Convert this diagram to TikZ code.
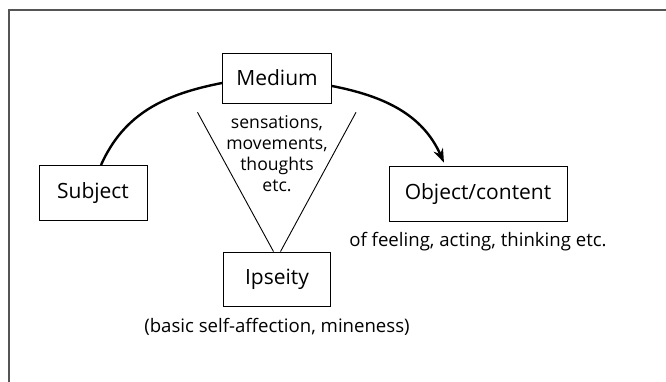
\documentclass[tikz,border=0pt]{standalone}
\usepackage{fontspec}
\setmainfont{Open Sans}
\usetikzlibrary{arrows.meta, positioning}
\definecolor{framegray}{RGB}{85, 85, 85}

\begin{document}
\begin{tikzpicture}[x=1pt, y=1pt,
  box/.style={draw, line width=0.9pt, inner sep=0pt, font=\fontsize{21}{25}\selectfont},
  note/.style={inner sep=0pt, align=center, font=\fontsize{18.6}{22}\selectfont},
  arcline/.style={line width=2.4pt},
  vline/.style={line width=0.9pt}
]
  \useasboundingbox (0,0) rectangle (666,-382);
  \clip (0,0) rectangle (666,-382);

  % outer frame
  \draw[framegray, line width=2pt] (9,-10) rectangle (690,-400);

  % boxes
  \node[box, minimum width=109pt, minimum height=50pt] (med) at (277,-78) {Medium};
  \node[box, minimum width=108pt, minimum height=55pt] (subj) at (93,-193) {Subject};
  \node[box, minimum width=178pt, minimum height=55pt] (obj) at (478,-194) {Object/content};
  \node[box, minimum width=107pt, minimum height=54pt] (ips) at (277,-279) {Ipseity};

  % notes
  \node[note, anchor=north, font=\fontsize{17.6}{21}\selectfont] (mednote) at (277,-115) {sensations,\\movements,\\thoughts\\etc.};
  \node[note, below=10pt of obj] (objnote) {of feeling, acting, thinking etc.};
  \node[note, below=12pt of ips] (ipsnote) {(basic self-affection, mineness)};

  % funnel
  \coordinate (funl) at (197.5,-112.3);
  \coordinate (funr) at (356,-112.3);
  \draw[vline] (funl) -- ([xshift=-3.5pt]ips.north);
  \draw[vline] (funr) -- ([xshift=3.5pt]ips.north);

  % arc
  \draw[arcline] ([xshift=8pt]subj.north) to[out=66, in=191] ([yshift=-5pt]med.west);
  \draw[arcline, -{Stealth[length=14pt, width=10pt]}] ([yshift=-8pt]med.east)
    to[out=-11, in=114] ([xshift=-34pt, yshift=3.4pt]obj.north);
\end{tikzpicture}
\end{document}
